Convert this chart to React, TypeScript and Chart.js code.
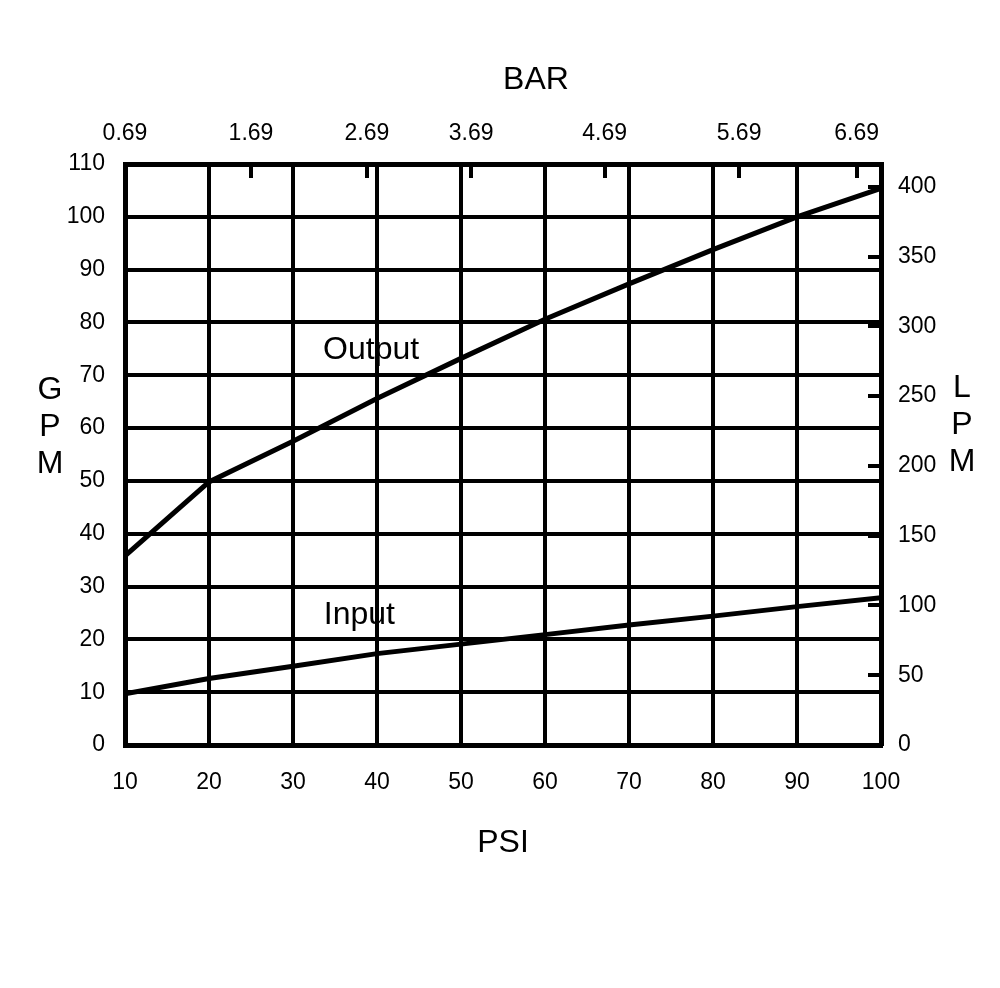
import React, { useEffect, useRef } from 'react';
import { Chart, registerables } from 'chart.js';

Chart.register(...registerables);

// ---- data ----
const psi = [10, 20, 30, 40, 50, 60, 70, 80, 90, 100];
const outputGpm = [35.8, 49.8, 57.5, 65.6, 73.2, 80.6, 87.3, 93.8, 100, 105.4];
const inputGpm = [9.7, 12.6, 14.9, 17.3, 19.1, 20.9, 22.7, 24.4, 26.2, 27.9];

const psiTicks = [10, 20, 30, 40, 50, 60, 70, 80, 90, 100];
const gpmTicks = [0, 10, 20, 30, 40, 50, 60, 70, 80, 90, 100, 110];
const lpmTicks = [0, 50, 100, 150, 200, 250, 300, 350, 400];
const barTickLabels = ['0.69', '1.69', '2.69', '3.69', '4.69', '5.69', '6.69'];
const barTickPsi = [10, 25, 38.8, 51.2, 67.1, 83.1, 97.1];
const LPM_PER_GPM = 3.785;

const FONT = '"Liberation Sans", Arial, Helvetica, sans-serif';

const overlayPlugin = {
  id: 'overlay',
  afterDatasetsDraw(chart: any) {
    const { ctx, chartArea: a, scales } = chart;
    ctx.save();
    ctx.strokeStyle = '#000';
    ctx.lineWidth = 4;
    // inner tick marks on top (BAR) axis
    barTickPsi.forEach((v) => {
      const x = Math.round(scales.x2.getPixelForValue(v));
      ctx.beginPath();
      ctx.moveTo(x, a.top);
      ctx.lineTo(x, a.top + 14);
      ctx.stroke();
    });
    // inner tick marks on right (LPM) axis
    lpmTicks.forEach((v) => {
      const y = Math.round(scales.y2.getPixelForValue(v));
      ctx.beginPath();
      ctx.moveTo(a.right, y);
      ctx.lineTo(a.right - 13, y);
      ctx.stroke();
    });

    ctx.fillStyle = '#000';
    ctx.textAlign = 'center';
    ctx.textBaseline = 'middle';
    ctx.font = `32px ${FONT}`;
    // series labels
    ctx.fillText('Output', scales.x.getPixelForValue(39.3), scales.y.getPixelForValue(75.4) + 3);
    ctx.fillText('Input', scales.x.getPixelForValue(37.9), scales.y.getPixelForValue(25.1) + 3);
    // axis titles
    ctx.fillText('BAR', 536, 80);
    ctx.fillText('PSI', (a.left + a.right) / 2, 843);
    ['G', 'P', 'M'].forEach((ch, i) => ctx.fillText(ch, 50, 390 + i * 37));
    ['L', 'P', 'M'].forEach((ch, i) => ctx.fillText(ch, 962, 388 + i * 37));
    ctx.restore();
  },
};

export default function App() {
  const ref = useRef<HTMLCanvasElement>(null);

  useEffect(() => {
    if (!ref.current) return;
    const tickFont = { family: FONT, size: 23 };
    const chart = new Chart(ref.current, {
      type: 'line',
      data: {
        datasets: [
          {
            label: 'Output',
            data: psi.map((x, i) => ({ x, y: outputGpm[i] })),
            borderColor: '#000',
            borderWidth: 5,
            pointRadius: 0,
            tension: 0,
            xAxisID: 'x',
            yAxisID: 'y',
          },
          {
            label: 'Input',
            data: psi.map((x, i) => ({ x, y: inputGpm[i] })),
            borderColor: '#000',
            borderWidth: 5,
            pointRadius: 0,
            tension: 0,
            xAxisID: 'x',
            yAxisID: 'y',
          },
        ],
      },
      options: {
        responsive: false,
        animation: false,
        devicePixelRatio: 1,
        layout: { padding: 0 },
        plugins: { legend: { display: false }, tooltip: { enabled: false }, title: { display: false } },
        scales: {
          x: {
            type: 'linear',
            position: 'bottom',
            min: 10,
            max: 100,
            afterBuildTicks: (s: any) => { s.ticks = psiTicks.map((value) => ({ value })); },
            ticks: { font: tickFont, color: '#000', padding: 24, maxRotation: 0, autoSkip: false },
            grid: { color: '#000', lineWidth: 4, drawTicks: false },
            border: { color: '#000', width: 5 },
            afterFit: (s: any) => { s.height = 243; },
          },
          x2: {
            type: 'linear',
            position: 'top',
            min: 10,
            max: 100,
            afterBuildTicks: (s: any) => { s.ticks = barTickPsi.map((value) => ({ value })); },
            ticks: {
              font: tickFont,
              color: '#000',
              padding: 17,
              maxRotation: 0,
              autoSkip: false,
              callback: (_v: any, i: number) => barTickLabels[i],
            },
            grid: { drawOnChartArea: false, drawTicks: false },
            border: { color: '#000', width: 5 },
            afterFit: (s: any) => { s.height = 164; },
          },
          y: {
            type: 'linear',
            position: 'left',
            min: 0,
            max: 110,
            afterBuildTicks: (s: any) => { s.ticks = gpmTicks.map((value) => ({ value })); },
            ticks: { font: tickFont, color: '#000', padding: 20, autoSkip: false },
            grid: { color: '#000', lineWidth: 4, drawTicks: false },
            border: { color: '#000', width: 5 },
            afterFit: (s: any) => { s.width = 125; },
          },
          y2: {
            type: 'linear',
            position: 'right',
            min: 0,
            max: 110 * LPM_PER_GPM,
            afterBuildTicks: (s: any) => { s.ticks = lpmTicks.map((value) => ({ value })); },
            ticks: { font: tickFont, color: '#000', padding: 17, autoSkip: false },
            grid: { drawOnChartArea: false, drawTicks: false },
            border: { color: '#000', width: 5 },
            afterFit: (s: any) => { s.width = 119; },
          },
        },
      },
      plugins: [overlayPlugin],
    } as any);
    return () => chart.destroy();
  }, []);

  return (
    <div style={{ position: 'absolute', left: 0, top: 0, width: 1000, height: 988, background: '#fff' }}>
      <canvas ref={ref} width={1000} height={988} style={{ display: 'block', width: 1000, height: 988 }} />
    </div>
  );
}
